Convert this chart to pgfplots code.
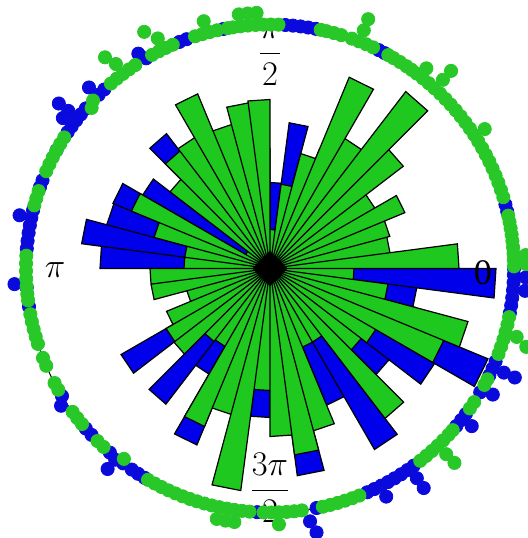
\documentclass[border=0pt]{standalone}
\usepackage{fontspec}
\setmainfont{Liberation Serif}
\usepackage{pgfplots}
\pgfplotsset{compat=1.18}
\usepgfplotslibrary{polar}
\definecolor{barblue}{RGB}{0,0,235}
\definecolor{bargreen}{RGB}{30,200,30}
\definecolor{dotblue}{RGB}{10,10,220}
\definecolor{dotgreen}{RGB}{40,200,40}
\begin{document}
\begin{tikzpicture}
\begin{polaraxis}[
  scale only axis, width=280pt, height=280pt,
  ymin=0, ymax=280, xmin=0, xmax=360,
  ytick={244}, yticklabels={}, xtick=\empty,
  ymajorgrids,
  major grid style={black, line width=0.5pt},
  major tick length=0pt,
  axis line style={draw=none},
  clip=false,
]
% blue histogram (behind)
\addplot[draw=black, line width=0.6pt, fill=barblue, mark=none] coordinates {
(0,0) (0,120) (7.5,120) (0,0) (7.5,90) (15,90) (0,0) (15,100) (22.5,100) (0,0) (22.5,110) (30,110) (0,0)
(30,85) (37.5,85) (0,0) (37.5,120) (45,120) (0,0) (45,140) (52.5,140) (0,0) (52.5,110) (60,110) (0,0)
(60,130) (67.5,130) (0,0) (67.5,95) (75,95) (0,0) (75,147) (82.5,147) (0,0) (82.5,86) (90,86) (0,0)
(90,120) (97.5,120) (0,0) (97.5,110) (105,110) (0,0) (105,100) (112.5,100) (0,0) (112.5,130) (120,130) (0,0)
(120,115) (127.5,115) (0,0) (127.5,170) (135,170) (0,0) (135,100) (142.5,100) (0,0) (142.5,147) (150,147) (0,0)
(150,170) (157.5,170) (0,0) (157.5,169) (165,169) (0,0) (165,190) (172.5,190) (0,0) (172.5,170) (180,170) (0,0)
(180,95) (187.5,95) (0,0) (187.5,90) (195,90) (0,0) (195,70) (202.5,70) (0,0) (202.5,85) (210,85) (0,0)
(210,172) (217.5,172) (0,0) (217.5,95) (225,95) (0,0) (225,171) (232.5,171) (0,0) (232.5,122) (240,122) (0,0)
(240,191) (247.5,191) (0,0) (247.5,115) (255,115) (0,0) (255,150) (262.5,150) (0,0) (262.5,149) (270,149) (0,0)
(270,125) (277.5,125) (0,0) (277.5,209) (285,209) (0,0) (285,130) (292.5,130) (0,0) (292.5,148) (300,148) (0,0)
(300,209) (307.5,209) (0,0) (307.5,140) (315,140) (0,0) (315,150) (322.5,150) (0,0) (322.5,190) (330,190) (0,0)
(330,236) (337.5,236) (0,0) (337.5,150) (345,150) (0,0) (345,148) (352.5,148) (0,0) (352.5,226) (360,226) (0,0)
};
% green histogram (front)
\addplot[draw=black, line width=0.6pt, fill=bargreen, mark=none] coordinates {
(0,0) (0,189) (7.5,189) (0,0) (7.5,121) (15,121) (0,0) (15,124) (22.5,124) (0,0) (22.5,146) (30,146) (0,0)
(30,121) (37.5,121) (0,0) (37.5,168) (45,168) (0,0) (45,223) (52.5,223) (0,0) (52.5,150) (60,150) (0,0)
(60,207) (67.5,207) (0,0) (67.5,119) (75,119) (0,0) (75,85) (82.5,85) (0,0) (82.5,39) (90,39) (0,0)
(90,169) (97.5,169) (0,0) (97.5,167) (105,167) (0,0) (105,149) (112.5,149) (0,0) (112.5,189) (120,189) (0,0)
(120,151) (127.5,151) (0,0) (127.5,148) (135,148) (0,0) (135,126) (142.5,126) (0,0) (142.5,28) (150,28) (0,0)
(150,150) (157.5,150) (0,0) (157.5,120) (165,120) (0,0) (165,86) (172.5,86) (0,0) (172.5,86) (180,86) (0,0)
(180,120) (187.5,120) (0,0) (187.5,120) (195,120) (0,0) (195,86) (202.5,86) (0,0) (202.5,112) (210,112) (0,0)
(210,120) (217.5,120) (0,0) (217.5,121) (225,121) (0,0) (225,92) (232.5,92) (0,0) (232.5,90) (240,90) (0,0)
(240,171) (247.5,171) (0,0) (247.5,151) (255,151) (0,0) (255,224) (262.5,224) (0,0) (262.5,122) (270,122) (0,0)
(270,168) (277.5,168) (0,0) (277.5,188) (285,188) (0,0) (285,168) (292.5,168) (0,0) (292.5,85) (300,85) (0,0)
(300,85) (307.5,85) (0,0) (307.5,189) (315,189) (0,0) (315,115) (322.5,115) (0,0) (322.5,122) (330,122) (0,0)
(330,188) (337.5,188) (0,0) (337.5,205) (345,205) (0,0) (345,119) (352.5,119) (0,0) (352.5,84) (360,84) (0,0)
};
% centre
\addplot[only marks, mark=square*, mark size=6pt, mark options={rotate=45, fill=black, draw=black}] coordinates {(0,0)};
% blue sample points on the circle
\addplot[only marks, mark=*, mark size=3.3pt, mark options={fill=dotblue, draw=dotblue}] coordinates {
(13.5,244) (15.2,244) (62,244) (63.5,244)
(79.2,244) (81,244) (82.8,244) (84.6,244) (86.4,244)
(101,244) (110,244) (111.8,244) (120.5,244) (121.5,252)
(132.8,244) (134.6,244) (135,256)
(139,244) (140.8,244) (142.6,244) (144.4,244) (146,244) (142,256) (142,268) (144,256)
(151,244) (158.8,244) (160.5,244)
(166.2,244) (168,244) (169.8,244) (171.6,244) (168,256)
(173.5,244) (175.3,244)
(183.5,256) (184.5,244) (189,244)
(211.5,244) (213.3,250)
(221,244) (223,244)
(229,244) (231,246) (233,244) (231,258)
(235.5,244) (237.3,244) (239.1,244)
(267,244)
(279,256) (280,268) (281,244)
(293.5,244) (295.3,244) (297.1,244) (298.9,244) (300.7,244) (297,256)
(302.5,244) (304.3,244) (306.1,244) (305,256) (305,268)
(319.8,244) (321.6,244) (323.4,244) (322,256)
(329.5,244) (330.5,256)
(334,244) (335.8,244) (337.6,244) (336,256) (336,268)
(349.5,244) (351.3,244) (353.1,244) (354.9,244) (356.7,244) (358.5,244) (360,244) (355,256) (358,256)
};
% green sample points on the circle
\addplot[only marks, mark=*, mark size=3.3pt, mark options={fill=dotgreen, draw=dotgreen}] coordinates {
(0.5,244) (2,244) (3.5,244) (5,244) (6.5,244) (8,244) (9.5,244) (11,244) (12.5,244) (3,256) (1,256)
(17,244) (18.8,244) (20.6,244) (22.4,244) (24.2,244) (26,244) (27.8,244) (29.6,244) (31.4,244) (33.2,244)
(35,244) (36.8,244) (38.6,244) (40.4,244) (42.2,244) (44,244) (33,256)
(45.8,244) (47.6,244) (49.4,244) (51.2,244) (53,244) (54.5,244) (47.5,256) (47.5,268) (52,254)
(56,244) (57.8,244) (59.6,244) (61,244)
(65,244) (66.8,244) (68.6,244) (70.4,244) (68.5,256) (68.5,268)
(73,244) (74.8,244) (76.6,244) (78,244)
(88,244) (89.8,244) (91.6,244) (93.4,244) (95.2,244) (97,244) (98.8,244) (100,244) (93,256) (95,256) (97,256)
(102.5,244) (104.3,244) (106.1,244) (107.9,244) (105,256)
(113.5,244) (115.3,244) (117.1,244) (118.9,244) (116,256) (118,268)
(123.5,244) (125.3,244) (127.1,244) (128.9,244) (130.7,244) (127,256) (128,268)
(136.5,244) (138,240)
(147.5,244) (149.3,244) (151.1,244) (152.9,244) (154.7,244) (156.5,244)
(161.5,244) (163.3,244) (165,244)
(177,244) (178.8,244) (180.6,244) (182.4,244) (184.2,244) (186,244) (187.5,244)
(190.8,244) (192.6,244) (194.4,244) (196.2,244) (198,244)
(201.5,244) (203.5,244) (208,244) (209.8,244)
(216,244) (217.8,244) (219.6,244)
(225,244) (227,244) (232.5,240)
(240,244) (241.8,244) (243.6,244) (245.4,244) (247.2,244) (249,244) (250.8,244) (252.6,244) (254.4,244)
(256.2,244) (258,244) (259.8,244) (261.6,244) (263.4,244) (265.2,244) (258,256) (260,256) (262,256)
(268.5,244) (270.3,244) (272.1,244) (273.9,244) (275.7,244) (277.5,244) (272,256)
(282.5,244) (284.3,244) (286.1,244) (287.9,244) (289.7,244) (291.5,244)
(308,244) (309.8,244) (311.6,244) (313.4,244) (315.2,244) (317,244) (318.5,244) (313.5,256) (313.5,268)
(325,244) (326.8,244) (331.5,244) (333,244)
(339.5,244) (341.3,244) (343.1,244) (344.9,244) (346.7,244) (348.5,244) (344.5,256) (343,268)
};
\coordinate (C) at (axis cs:0,0);
\node at (axis cs:90,213.5) {\fontsize{18}{20}\selectfont$\displaystyle\frac{\pi}{2}$};
\node at (axis cs:270,219.5) {\fontsize{18}{20}\selectfont$\displaystyle\frac{3\pi}{2}$};
\node at (axis cs:-1.2,213) {\fontsize{18}{20}\selectfont 0};
\node at (axis cs:180.4,215) {\fontsize{18}{20}\selectfont$\pi$};
\end{polaraxis}
\pgfresetboundingbox
\path (C) ++(-135pt,-134.75pt) rectangle ++(264pt,269pt);
\end{tikzpicture}
\end{document}
